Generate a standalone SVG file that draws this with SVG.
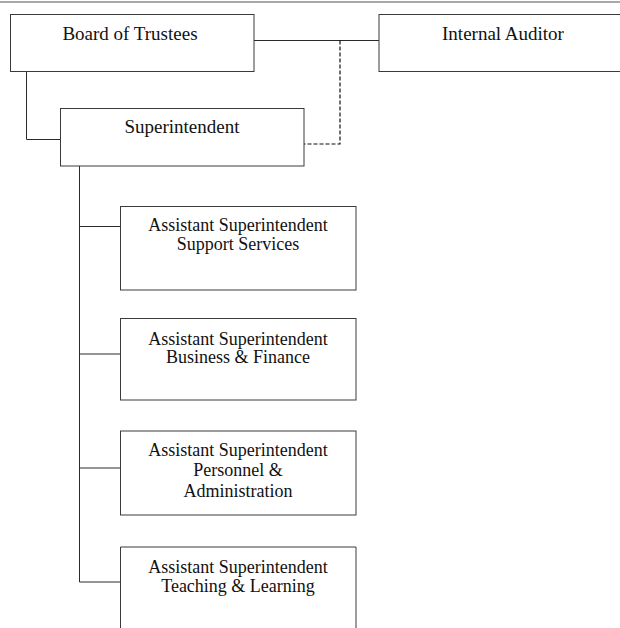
<svg xmlns="http://www.w3.org/2000/svg" width="620" height="628" viewBox="0 0 620 628">
  <style>
    .box { fill: #ffffff; stroke: #3a3a3a; stroke-width: 1; }
    .label { font-family: "Liberation Serif", "Times New Roman", serif; font-size: 19px; fill: #111111; text-anchor: middle; }
    .sub { font-size: 18px; }
    .link { fill: none; stroke: #2a2a2a; stroke-width: 1; }
    .dashed { stroke: #111111; stroke-width: 1.2; stroke-dasharray: 4 2; }
  </style>
  <rect width="620" height="628" fill="#ffffff"/>

  <!-- page rule -->
  <line x1="0" y1="2" x2="620" y2="2" stroke="#555555" stroke-width="1.2"/>

  <!-- connectors -->
  <g id="connectors">
    <path class="link" d="M254,40.5 H379"/>
    <path class="link dashed" d="M340,40.5 V144 H304"/>
    <path class="link" d="M26.5,71.5 V139.5 H60"/>
    <path class="link" d="M79.5,166 V582"/>
    <path class="link" d="M79.5,226.5 H120"/>
    <path class="link" d="M79.5,354 H120"/>
    <path class="link" d="M79.5,468 H120"/>
    <path class="link" d="M79.5,582 H120"/>
  </g>

  <g id="board">
    <rect class="box" x="10.5" y="14.5" width="243.5" height="57"/>
    <text class="label" x="130" y="40">Board of Trustees</text>
  </g>

  <g id="auditor">
    <rect class="box" x="379" y="14.5" width="250" height="57"/>
    <text class="label" x="503" y="40">Internal Auditor</text>
  </g>

  <g id="superintendent">
    <rect class="box" x="60.5" y="108.5" width="243.5" height="57.5"/>
    <text class="label" x="182" y="133">Superintendent</text>
  </g>

  <g id="support-services">
    <rect class="box" x="120.5" y="206.5" width="235.5" height="83.5"/>
    <text class="label sub" x="238" y="231">Assistant Superintendent</text>
    <text class="label sub" x="238" y="249.5">Support Services</text>
  </g>

  <g id="business-finance">
    <rect class="box" x="120.5" y="318.5" width="235.5" height="81.5"/>
    <text class="label sub" x="238" y="344.5">Assistant Superintendent</text>
    <text class="label sub" x="238" y="363">Business &amp; Finance</text>
  </g>

  <g id="personnel-administration">
    <rect class="box" x="120.5" y="431" width="235.5" height="84"/>
    <text class="label sub" x="238" y="456">Assistant Superintendent</text>
    <text class="label sub" x="238" y="476">Personnel &amp;</text>
    <text class="label sub" x="238" y="497">Administration</text>
  </g>

  <g id="teaching-learning">
    <path class="box" d="M120.5,632 V547 H356 V632"/>
    <text class="label sub" x="238" y="572.5">Assistant Superintendent</text>
    <text class="label sub" x="238" y="591.5">Teaching &amp; Learning</text>
  </g>
</svg>
